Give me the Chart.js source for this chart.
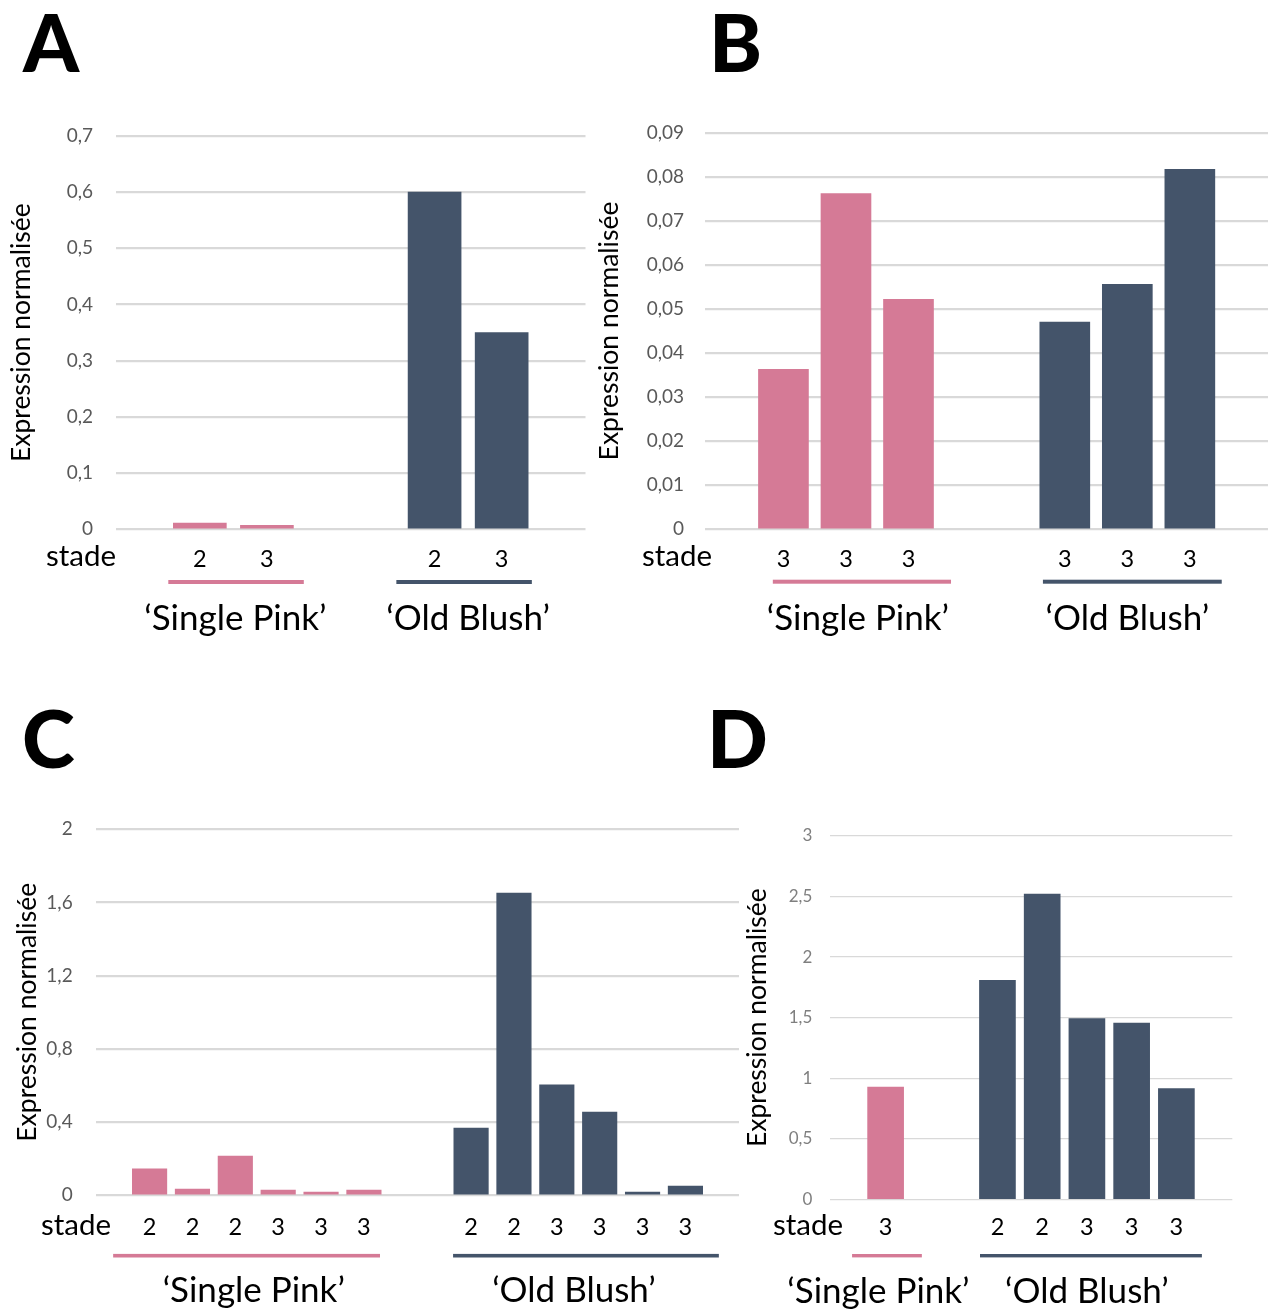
<!DOCTYPE html>
<html><head><meta charset="utf-8">
<script src="https://cdn.jsdelivr.net/npm/chart.js@4.4.0/dist/chart.umd.min.js"></script>
<style>
html,body{margin:0;padding:0;background:#fff;}
body{width:1269px;height:1309px;position:relative;overflow:hidden;font-family:Lato,sans-serif;}
canvas{position:absolute;}
.letter{position:absolute;font-family:Lato,sans-serif;font-weight:900;font-size:80px;line-height:1;color:#000;}
</style></head><body>
<div class="letter" style="left:23px;top:1px">A</div>
<div class="letter" style="left:709px;top:1px">B</div>
<div class="letter" style="left:22px;top:697px">C</div>
<div class="letter" style="left:707px;top:697px">D</div>
<canvas id="cA" width="600" height="560" style="left:0;top:100px"></canvas>
<canvas id="cB" width="684" height="560" style="left:585px;top:100px"></canvas>
<canvas id="cC" width="760" height="529" style="left:0;top:780px"></canvas>
<canvas id="cD" width="529" height="529" style="left:740px;top:780px"></canvas>
<script>
// ---------- data ----------
const groupNames = ['\u2018Single Pink\u2019', '\u2018Old Blush\u2019'];
const yTitle = 'Expression normalisée';
const stadeLabel = 'stade';

// Panel A
const stadesA_SP = ['2', '3'];
const valuesA_SP = [0.011, 0.007];
const stadesA_OB = ['2', '3'];
const valuesA_OB = [0.600, 0.350];
const yTicksA = ['0', '0,1', '0,2', '0,3', '0,4', '0,5', '0,6', '0,7'];

// Panel B
const stadesB_SP = ['3', '3', '3'];
const valuesB_SP = [0.0363, 0.0762, 0.0522];
const stadesB_OB = ['3', '3', '3'];
const valuesB_OB = [0.0470, 0.0556, 0.0817];
const yTicksB = ['0', '0,01', '0,02', '0,03', '0,04', '0,05', '0,06', '0,07', '0,08', '0,09'];

// Panel C
const stadesC_SP = ['2', '2', '2', '3', '3', '3'];
const valuesC_SP = [0.144, 0.034, 0.215, 0.029, 0.018, 0.029];
const stadesC_OB = ['2', '2', '3', '3', '3', '3'];
const valuesC_OB = [0.368, 1.652, 0.603, 0.455, 0.018, 0.051];
const yTicksC = ['0', '0,4', '0,8', '1,2', '1,6', '2'];

// Panel D
const stadesD_SP = ['3'];
const valuesD_SP = [0.926];
const stadesD_OB = ['2', '2', '3', '3', '3'];
const valuesD_OB = [1.808, 2.521, 1.492, 1.456, 0.914];
const yTicksD = ['0', '0,5', '1', '1,5', '2', '2,5', '3'];

// ---------- styles ----------
const PINK = '#d57a96';
const SLATE = '#44546a';
const FONT = 'Lato';
const GAP = 2.5;      // distance (in bar slots) between last bar of a group and first of next
const MARGIN = 1.25;  // slots before first / after last bar

function makePanel(id, series, yTicks, yStep, L) {
  const datasets = [];
  const tickPos = [], tickLab = [];
  const groupsInfo = [];
  let start = 0;
  series.forEach((s) => {
    const pts = s.values.map((v, i) => {
      tickPos.push(start + i);
      tickLab.push(s.stages[i]);
      return { x: start + i, y: v };
    });
    groupsInfo.push({ first: start, last: start + s.values.length - 1, color: s.color, name: s.name });
    datasets.push({
      data: pts, backgroundColor: s.color, borderWidth: 0,
      barThickness: L.barW, grouped: false
    });
    start = start + s.values.length - 1 + GAP;
  });
  const lastPos = tickPos[tickPos.length - 1];

  const decor = {
    id: 'decor_' + id,
    afterDraw(chart) {
      const ctx = chart.ctx, xs = chart.scales.x;
      ctx.save();
      ctx.fillStyle = '#000';
      ctx.font = L.stadeSize + 'px ' + FONT;
      ctx.textAlign = 'right';
      ctx.textBaseline = 'alphabetic';
      ctx.fillText(stadeLabel, L.stadeX, L.stadeY);
      groupsInfo.forEach((g, i) => {
        const x0 = xs.getPixelForValue(g.first + L.lineOff[i][0]);
        const x1 = xs.getPixelForValue(g.last + L.lineOff[i][1]);
        ctx.fillStyle = g.color;
        ctx.fillRect(x0, L.lineY - L.lineW / 2, x1 - x0, L.lineW);
        ctx.fillStyle = '#000';
        ctx.font = L.groupSize + 'px ' + FONT;
        ctx.textAlign = 'center';
        ctx.fillText(g.name, xs.getPixelForValue((g.first + g.last) / 2 + L.labelShift[i]), L.groupY);
      });
      ctx.restore();
    }
  };

  new Chart(document.getElementById(id), {
    type: 'bar',
    data: { datasets },
    options: {
      responsive: false, animation: false, devicePixelRatio: 1,
      layout: { padding: { top: L.padTop, right: L.padRight, left: 0, bottom: 0 } },
      plugins: { legend: { display: false }, tooltip: { enabled: false } },
      scales: {
        x: {
          type: 'linear', min: -MARGIN, max: lastPos + MARGIN, offset: false,
          grid: { display: false, drawTicks: false }, border: { display: false },
          afterBuildTicks: sc => { sc.ticks = tickPos.map(v => ({ value: v })); },
          afterFit: sc => { sc.height = L.xAxisH; },
          ticks: {
            autoSkip: false, maxRotation: 0, minRotation: 0, padding: L.xTickPad, color: '#000',
            font: { family: FONT, size: L.stageSize },
            callback: (v, i) => tickLab[i]
          }
        },
        y: {
          min: 0, max: yStep * (yTicks.length - 1),
          afterBuildTicks: sc => { sc.ticks = yTicks.map((_, i) => ({ value: i * yStep })); },
          afterFit: sc => { sc.width = L.yAxisW; },
          grid: { color: '#d9d9d9', lineWidth: L.gridW, drawTicks: false },
          border: { display: false },
          ticks: {
            padding: L.yTickPad, color: L.yTickColor,
            font: { family: FONT, size: L.yTickSize },
            callback: (v, i) => yTicks[i]
          },
          title: {
            display: true, text: yTitle, color: '#000',
            font: { family: FONT, size: L.titleSize },
            padding: { top: L.titlePad, bottom: 0 }
          }
        }
      }
    },
    plugins: [decor]
  });
}

const common = { stageSize: 23.5, stadeSize: 29.5, groupSize: 35, titleSize: 26.5, yTickSize: 19, yTickColor: '#595959', gridW: 2.2 };

makePanel('cA', [
  { stages: stadesA_SP, values: valuesA_SP, color: PINK, name: groupNames[0] },
  { stages: stadesA_OB, values: valuesA_OB, color: SLATE, name: groupNames[1] }
], yTicksA, 0.1, Object.assign({}, common, {
  padTop: 36, padRight: 14.5, yAxisW: 116, xAxisH: 130.7, xTickPad: 16.5, yTickPad: 23, titlePad: 6,
  barW: 53, stadeX: 116, stadeY: 466, lineY: 482, lineW: 4, groupY: 530,
  lineOff: [[-0.47, 0.55], [-0.57, 0.45]], labelShift: [0.03, 0]
}));

makePanel('cB', [
  { stages: stadesB_SP, values: valuesB_SP, color: PINK, name: groupNames[0] },
  { stages: stadesB_OB, values: valuesB_OB, color: SLATE, name: groupNames[1] }
], yTicksB, 0.01, Object.assign({}, common, {
  padTop: 32.3, padRight: 1, yAxisW: 120.3, xAxisH: 130.7, xTickPad: 16.5, yTickPad: 21.3, titlePad: 8.5,
  barW: 50, stadeX: 127, stadeY: 466, lineY: 481.7, lineW: 4, groupY: 530,
  lineOff: [[-0.17, 0.68], [-0.35, 0.51]], labelShift: [0.19, 0]
}));

makePanel('cC', [
  { stages: stadesC_SP, values: valuesC_SP, color: PINK, name: groupNames[0] },
  { stages: stadesC_OB, values: valuesC_OB, color: SLATE, name: groupNames[1] }
], yTicksC, 0.4, Object.assign({}, common, {
  padTop: 49.3, padRight: 21, yAxisW: 96, xAxisH: 113.7, xTickPad: 18.5, yTickPad: 23.3, titlePad: 11.5,
  barW: 34.5, stadeX: 111, stadeY: 455, lineY: 475.7, lineW: 3.6, groupY: 522,
  lineOff: [[-0.85, 0.375], [-0.42, 0.78]], labelShift: [-0.07, -0.1]
}));

makePanel('cD', [
  { stages: stadesD_SP, values: valuesD_SP, color: PINK, name: groupNames[0] },
  { stages: stadesD_OB, values: valuesD_OB, color: SLATE, name: groupNames[1] }
], yTicksD, 0.5, Object.assign({}, common, {
  padTop: 56, padRight: 36.7, yAxisW: 89.7, xAxisH: 109.7, xTickPad: 14.5, yTickPad: 17.4, titlePad: 2,
  yTickSize: 17, yTickColor: '#7f7f7f', gridW: 1.3,
  barW: 36, stadeX: 103, stadeY: 455, lineY: 475.7, lineW: 3.4, groupY: 523,
  lineOff: [[-0.75, 0.81], [-0.39, 0.57]], labelShift: [-0.16, 0]
}));
</script>
</body></html>
